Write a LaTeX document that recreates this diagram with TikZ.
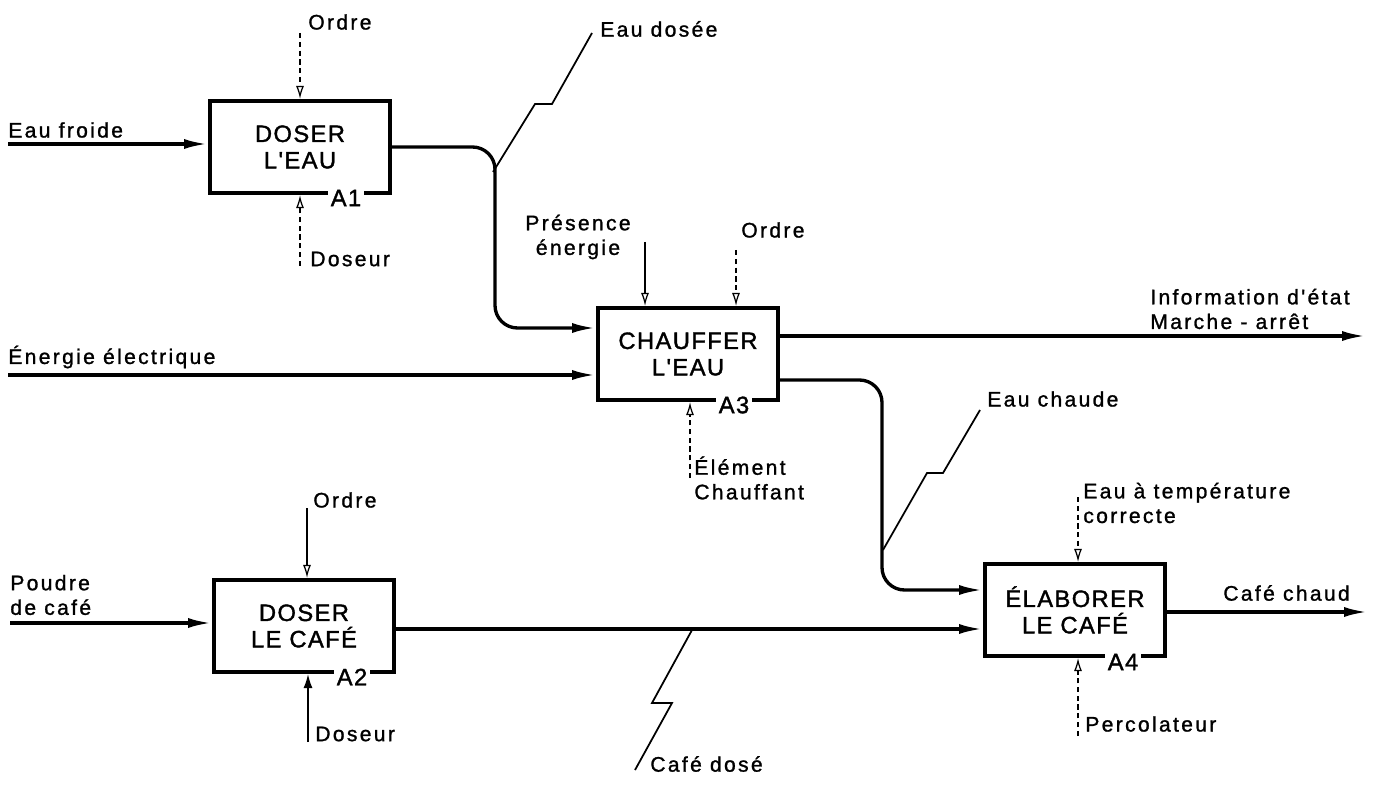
\documentclass[tikz,border=0pt]{standalone}
\usepackage{fontspec}
\usepackage{tikz}
\usetikzlibrary{arrows.meta, calc}
\setmainfont{Liberation Sans}
\newfontfamily\lblfont{Liberation Sans}[LetterSpace=11, FakeBold=1.2]
\newfontfamily\boxfont{Liberation Sans}[LetterSpace=6, FakeBold=1.5]

\begin{document}
\begin{tikzpicture}[
    x=0.02cm, y=-0.02cm,
    activity/.style={draw, line width=2.3pt, minimum width=3.6cm, minimum height=1.84cm, inner sep=0pt, align=center, font=\boxfont\fontsize{13.5}{15}\selectfont},
    refnum/.style={fill=white, inner sep=1.5pt, font=\boxfont\fontsize{13.5}{15}\selectfont},
    lbl/.style={anchor=west, inner sep=0pt, align=left, font=\lblfont\fontsize{12}{14}\selectfont},
    flow/.style={line width=1.9pt, -{Latex[length=4.8mm, width=2mm]}},
    ctrl/.style={line width=0.7pt, densely dashed, -{Latex[open, length=2.6mm, width=1.6mm]}},
    ctrlsolid/.style={line width=0.7pt, -{Latex[open, length=2.6mm, width=1.6mm]}},
    mechsolid/.style={line width=0.9pt, -{Latex[length=2.8mm, width=1.8mm]}},
    squiggle/.style={line width=1pt}
]
    \useasboundingbox (0,0) rectangle (1386,787);

    % Activities
    \node[activity] (a1) at (300,147) {DOSER\\L'EAU};
    \node[activity] (a3) at (688,354) {CHAUFFER\\L'EAU};
    \node[activity] (a2) at (304,626) {DOSER\\LE CAFÉ};
    \node[activity] (a4) at (1075,610) {ÉLABORER\\LE CAFÉ};

    % Reference numbers
    \node[refnum] (n1) at ($(a1.south east)+(-46,3)$) {A1};
    \node[refnum] (n3) at ($(a3.south east)+(-46,3)$) {A3};
    \node[refnum] (n2) at ($(a2.south east)+(-44,3)$) {A2};
    \node[refnum] (n4) at ($(a4.south east)+(-44,4)$) {A4};

    % Labels
    \node[lbl] (eaufroide) at (8,130) {Eau froide};
    \node[lbl] (ordre1) at (308,22) {Ordre};
    \node[lbl] (doseur1) at (310,259) {Doseur};
    \node[lbl] (eaudosee) at (600,29) {Eau dosée};
    \node[lbl, anchor=center, align=center] (presence) at (578,237) {Présence\\énergie};
    \node[lbl] (ordre3) at (741,230) {Ordre};
    \node[lbl] (energie) at (8,357) {Énergie électrique};
    \node[lbl] (info) at (1150,309) {Information d'état\\Marche - arrêt};
    \node[lbl] (element) at (694,478) {Élément\\Chauffant};
    \node[lbl] (eauchaude) at (987,399) {Eau chaude};
    \node[lbl] (eautemp) at (1083,503) {Eau à température\\correcte};
    \node[lbl] (cafechaud) at (1223,593) {Café chaud};
    \node[lbl] (ordre2) at (313,500) {Ordre};
    \node[lbl] (poudre) at (10,595) {Poudre\\de café};
    \node[lbl] (doseur2) at (315,734) {Doseur};
    \node[lbl] (cafedose) at (650,764) {Café dosé};
    \node[lbl] (percol) at (1085,724) {Percolateur};

    % Ports
    \coordinate (a3in1) at ($(a3.west)+(0,-26)$);
    \coordinate (a3in2) at ($(a3.west)+(0,21)$);
    \coordinate (a3out1) at ($(a3.east)+(0,-18)$);
    \coordinate (a3out2) at ($(a3.east)+(0,26)$);
    \coordinate (a4in1) at ($(a4.west)+(0,-20)$);
    \coordinate (a4in2) at ($(a4.west)+(0,19)$);
    \coordinate (a4out) at ($(a4.east)+(0,2)$);

    % Flows
    \coordinate (efin) at (8,144);
    \draw[flow] (efin) -- (efin -| a1.west);
    \draw[flow, rounded corners=0.45cm] (a1.east) -- ++(103,0) |- (a3in1);
    \coordinate (eein) at (8,375);
    \draw[flow] (eein) -- (a3in2);
    \coordinate (ieout) at (1366,336);
    \draw[flow] (a3out1) -- (ieout);
    \draw[flow, rounded corners=0.45cm] (a3out2) -- ++(102,0) |- (a4in1);
    \coordinate (pcin) at (10,623);
    \draw[flow] (pcin) -- (pcin -| a2.west);
    \draw[flow] (a2.east |- a4in2) -- (a4in2);
    \coordinate (ccout) at (1368,612);
    \draw[flow] (a4out) -- (ccout);

    % Controls and mechanisms
    \coordinate (o1) at (300,33);
    \draw[ctrl] (o1) -- (a1.north);
    \coordinate (d1) at (300,266);
    \draw[ctrl] (d1) -- (a1.south);
    \coordinate (pe) at (645,242);
    \draw[ctrlsolid] (pe) -- (pe |- a3.north);
    \coordinate (o3) at (736,250);
    \draw[ctrl] (o3) -- (o3 |- a3.north);
    \coordinate (ec) at (690,478);
    \draw[ctrl] (ec) -- (ec |- a3.south);
    \coordinate (o2) at (307,508);
    \draw[ctrlsolid] (o2) -- (o2 |- a2.north);
    \coordinate (d2) at (308,742);
    \draw[mechsolid] (d2) -- (d2 |- a2.south);
    \coordinate (et) at (1078,497);
    \draw[ctrl] (et) -- (et |- a4.north);
    \coordinate (pc) at (1078,736);
    \draw[ctrl] (pc) -- (pc |- a4.south);

    % Leaders
    \draw[squiggle] ($(eaudosee.west)+(-8,4)$) -- ++(-40,71) -- ++(-17,0) -- ++(-42,68);
    \draw[squiggle] ($(eauchaude.west)+(-7,11)$) -- ++(-37,63) -- ++(-16,0) -- ++(-44,77);
    \draw[squiggle] ($(cafedose.west)+(-15,6)$) -- ++(37,-67) -- ++(-20,0) -- ++(40,-73);
\end{tikzpicture}
\end{document}
